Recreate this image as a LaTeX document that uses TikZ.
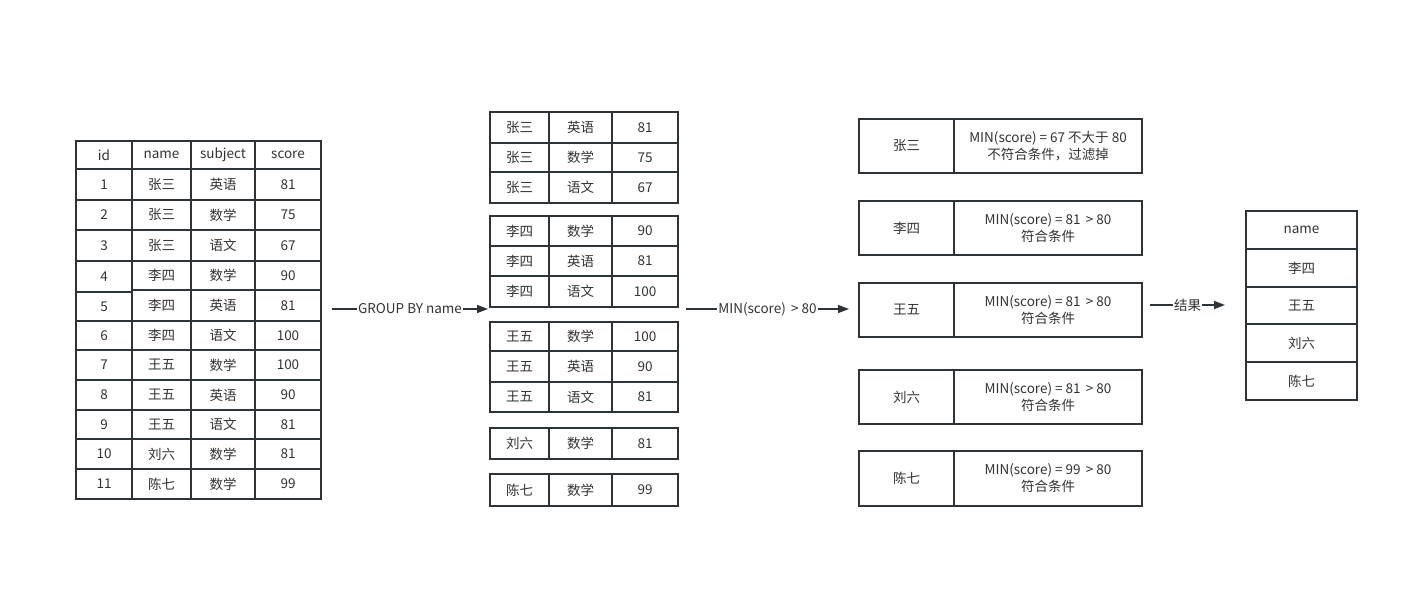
\documentclass[tikz,border=0pt]{standalone}
\usepackage{fontspec}
\setmainfont{Noto Sans CJK SC}
\usetikzlibrary{arrows.meta}
\definecolor{ln}{HTML}{2E3338}
\definecolor{tx}{HTML}{333333}
\tikzset{
  cell/.style={draw=ln, line width=1.4pt, inner sep=0pt, text=tx, font=\fontsize{13.5}{17}\selectfont, align=center},
  conn/.style={draw=ln, line width=1.4pt, -{Triangle[length=11pt,width=8pt]}},
  lab/.style={fill=white, inner sep=1pt, text=tx, font=\fontsize{13.5}{15}\selectfont}
}
\newcommand\cellnode[6]{%
  \pgfmathsetmacro\cw{#4-#2}\pgfmathsetmacro\ch{#5-#3}%
  \node[cell,minimum width=\cw pt,minimum height=\ch pt] (#1) at ({(#2+#4)/2},{(#3+#5)/2}) {#6};}
\begin{document}
\begin{tikzpicture}[x=1pt,y=-1pt]
\useasboundingbox[fill=white] (0,0) rectangle (1406,615);
% ---- left table
\cellnode{L0-id}{76}{141}{132}{169}{id}
\cellnode{L0-name}{132}{141}{191}{169}{name}
\cellnode{L0-subj}{191}{141}{255}{169}{subject}
\cellnode{L0-score}{255}{141}{321}{169}{score}
\foreach \i/\ia/\ib/\ya/\yb/\n/\s/\sc in {
  1/169/200/169/200/张三/英语/81,
  2/200/230/200/230/张三/数学/75,
  3/230/261/230/261/张三/语文/67,
  4/261/292/261/290/李四/数学/90,
  5/292/321/290/321/李四/英语/81,
  6/321/350/321/350/李四/语文/100,
  7/350/380/350/380/王五/数学/100,
  8/380/410/380/410/王五/英语/90,
  9/410/439/410/439/王五/语文/81,
  10/439/469/439/469/刘六/数学/81,
  11/469/499/469/499/陈七/数学/99}{
  \cellnode{L\i-id}{76}{\ia}{132}{\ib}{\i}
  \cellnode{L\i-name}{132}{\ya}{191}{\yb}{\n}
  \cellnode{L\i-subj}{191}{\ya}{255}{\yb}{\s}
  \cellnode{L\i-score}{255}{\ya}{321}{\yb}{\sc}
}
% ---- grouped tables
\foreach \i/\ya/\yb/\n/\s/\sc in {
  1/112/143/张三/英语/81,
  2/143/172/张三/数学/75,
  3/172/203/张三/语文/67,
  4/216/246/李四/数学/90,
  5/246/276/李四/英语/81,
  6/276/307/李四/语文/100,
  7/322/351/王五/数学/100,
  8/351/382/王五/英语/90,
  9/382/412/王五/语文/81,
  10/428/459/刘六/数学/81,
  11/474/506/陈七/数学/99}{
  \cellnode{G\i-name}{490}{\ya}{549}{\yb}{\n}
  \cellnode{G\i-subj}{549}{\ya}{612}{\yb}{\s}
  \cellnode{G\i-score}{612}{\ya}{678}{\yb}{\sc}
}
% ---- filter boxes
\foreach \k/\ya/\yb/\n/\t in {
  1/119/173/张三/{MIN(score) = 67 不大于 80\\不符合条件，过滤掉},
  2/201/255/李四/{MIN(score) = 81 \,> 80\\符合条件},
  3/283/337/王五/{MIN(score) = 81 \,> 80\\符合条件},
  4/370/424/刘六/{MIN(score) = 81 \,> 80\\符合条件},
  5/451/506/陈七/{MIN(score) = 99 \,> 80\\符合条件}}{
  \cellnode{F\k-name}{859}{\ya}{954}{\yb}{\n}
  \cellnode{F\k-cond}{954}{\ya}{1142}{\yb}{\t}
}
% ---- result table
\cellnode{R0}{1246}{211}{1357}{249}{name}
\cellnode{R1}{1246}{249}{1357}{287}{李四}
\cellnode{R2}{1246}{287}{1357}{324}{王五}
\cellnode{R3}{1246}{324}{1357}{362}{刘六}
\cellnode{R4}{1246}{362}{1357}{400}{陈七}
% ---- connectors
\coordinate (a1s) at (332,309);
\coordinate (a1e) at (488,309);
\coordinate (a2s) at (686,309);
\coordinate (a2e) at (849,309);
\coordinate (a3s) at (1150,305);
\coordinate (a3e) at (1225,305);
\draw[conn] (a1s) -- node[lab]{GROUP BY name} (a1e);
\draw[conn] (a2s) -- node[lab]{MIN(score) \,> 80} (a2e);
\draw[conn] (a3s) -- node[lab]{结果} (a3e);
\end{tikzpicture}
\end{document}
